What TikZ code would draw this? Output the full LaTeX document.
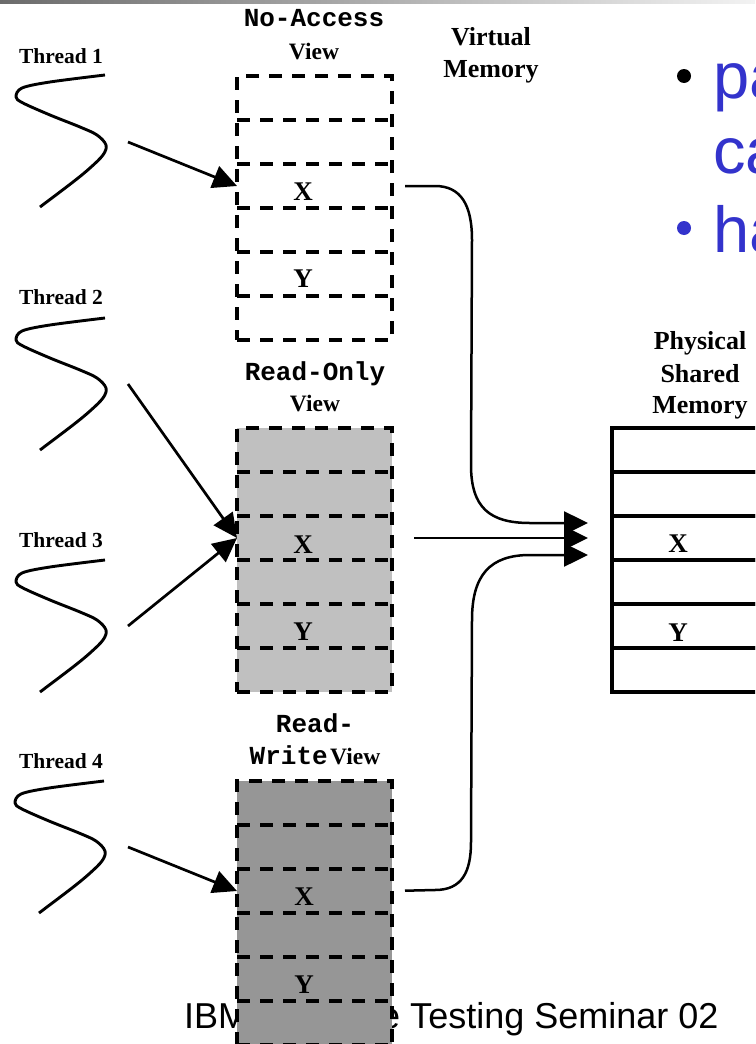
\documentclass[tikz,border=0pt]{standalone}
\usepackage{fontspec}
\setmainfont{Liberation Serif}
\setmonofont{Liberation Mono}
\newfontfamily\slidefont{Liberation Sans}
\usetikzlibrary{arrows.meta}
\definecolor{slideblue}{HTML}{3333CC}
\definecolor{rogray}{HTML}{C0C0C0}
\definecolor{rwgray}{HTML}{969696}
\begin{document}
\begin{tikzpicture}[x=1pt,y=-1pt,
  tbf/.style={font=\fontsize{21.5}{24}\selectfont\bfseries, inner sep=0pt, anchor=base},
  hbf/.style={font=\fontsize{26}{30}\selectfont\bfseries, inner sep=0pt, anchor=base},
  vbf/.style={font=\fontsize{23.5}{28}\selectfont\bfseries, inner sep=0pt, anchor=base},
  mbf/.style={font=\fontsize{26}{30}\selectfont\ttfamily\bfseries, inner sep=0pt, anchor=base},
  cell/.style={font=\fontsize{27}{30}\selectfont\bfseries, inner sep=0pt, anchor=base},
  viewbox/.style={draw, line width=3.4pt, dash pattern=on 13pt off 10pt, minimum width=155pt, minimum height=264pt, inner sep=0pt, outer sep=0pt},
  vrow/.style={minimum width=155pt, minimum height=44pt, inner sep=0pt, outer sep=0pt},
  rowline/.style={line width=3.4pt, dash pattern=on 13pt off 10pt},
  prow/.style={draw, line width=3.2pt, minimum width=175pt, minimum height=44pt, inner sep=0pt, outer sep=0pt},
  conn/.style={line width=2.7pt, -{Triangle[length=24pt,width=23pt]}},
  bluetxt/.style={anchor=base west, inner sep=0pt, font=\slidefont\fontsize{65}{70}\selectfont, text=slideblue},
  thr/.style={line width=2.9pt},
  squiggle/.pic={\draw[thr] plot[smooth,tension=0.55] coordinates {(0,0) (-55,7) (-83,13) (-89,22) (-82,28) (-55,40) (-25,52) (-8,60) (1,70) (-2,80) (-15,93) (-32,107) (-65,132)};}
]
\useasboundingbox (0,0) rectangle (755,1044);
\clip (0,0) rectangle (755,1044);
\fill[white] (0,0) rectangle (755,1044);
% top gradient bar
\shade[left color=black!58, right color=black!5] (0,0) rectangle (755,3);

% footer (partly hidden behind the read-write view)
\node[anchor=base west, inner sep=0pt, font=\slidefont\fontsize{36}{40}\selectfont] (foot) at (184,1028) {IBM Software Testing Seminar 02};

% bullet text on the right
\fill (684,76) circle (7pt);
\fill[slideblue] (684,228) circle (7pt);
\node[bluetxt] (b1) at (713,98) {pa};
\node[bluetxt] (b2) at (713,173) {ca};
\node[bluetxt] (b3) at (713,252) {ha};

% thread labels and squiggles
\node[tbf] (th1) at (61,63) {Thread 1};
\node[tbf] (th2) at (61,304) {Thread 2};
\node[tbf] (th3) at (61,547) {Thread 3};
\node[tbf] (th4) at (61,768) {Thread 4};
\pic at (105,75) {squiggle};
\pic at (105,318) {squiggle};
\pic at (105,560) {squiggle};
\pic at (104,781) {squiggle};
\coordinate (t1s) at (128,142);
\coordinate (t2s) at (128,384);
\coordinate (t3s) at (128,626);
\coordinate (t4s) at (128,847);

% headings
\node[mbf] (hna) at (314,27) {No-Access};
\node[vbf] (hna2) at (314,59) {View};
\node[hbf] (hvm1) at (491,45) {Virtual};
\node[hbf] (hvm2) at (491,77) {Memory};
\node[mbf] (hro) at (315,380) {Read-Only};
\node[vbf] (hro2) at (315,411) {View};
\node[mbf] (hrw) at (315,732) {Read-};
\node[inner sep=0pt, anchor=base, font=\bfseries] (hrw2) at (315,764) {{\fontsize{26}{30}\selectfont\ttfamily Write} {\fontsize{23.5}{28}\selectfont View}};
\node[hbf] (hps1) at (700,349) {Physical};
\node[hbf] (hps2) at (700,382) {Shared};
\node[hbf] (hps3) at (700,413) {Memory};

% No-Access view
\node[viewbox] (na) at (314.5,208) {};
\foreach \i in {1,...,6} \node[vrow] (na\i) at (314.5,{98+44*(\i-1)}) {};
\foreach \i in {1,...,5} \draw[rowline] (na\i.south west) -- (na\i.south east);

% Read-Only view
\node[viewbox, fill=rogray] (ro) at (314.5,560) {};
\foreach \i in {1,...,6} \node[vrow] (ro\i) at (314.5,{450+44*(\i-1)}) {};
\foreach \i in {1,...,5} \draw[rowline] (ro\i.south west) -- (ro\i.south east);

% Read-Write view
\node[viewbox, fill=rwgray, minimum height=290pt] (rw) at (314.5,926) {};
\foreach \i in {1,...,6} \node[vrow] (rw\i) at (314.5,{803+44*(\i-1)}) {};
\foreach \i in {1,...,6} \draw[rowline] (rw\i.south west) -- (rw\i.south east);

% Physical shared memory
\foreach \i in {1,...,6} \node[prow] (ph\i) at (699.5,{450+44*(\i-1)}) {};

% cell labels
\node[cell] (naX) at (303,200) {X};
\node[cell] (naY) at (303,287) {Y};
\node[cell] (roX) at (303,553) {X};
\node[cell] (roY) at (303,640) {Y};
\node[cell] (rwX) at (304,905) {X};
\node[cell] (rwY) at (304,993) {Y};
\node[cell] (phX) at (678,552) {X};
\node[cell] (phY) at (678,641) {Y};

% thread arrows
\draw[conn] (t1s) -- (na3.west);
\draw[conn] (t2s) -- (ro3.west);
\draw[conn] (t3s) -- (ro3.west);
\draw[conn] (t4s) -- (rw3.west);

% mappings to physical memory
\draw[conn, line width=2.5pt, shorten <=13pt, shorten >=24pt] (na3.east) -- (435,186) .. controls (461,186) and (472,205) .. (472,240) -- (471,465) .. controls (471,508) and (490,523) .. (530,523) -- ([yshift=15pt]ph3.west);
\draw[conn, line width=2.5pt, shorten <=22pt, shorten >=24pt] (ro3.east) -- (ph3.west);
\draw[conn, line width=2.5pt, shorten <=13pt, shorten >=24pt] (rw3.east) -- (435,890) .. controls (462,890) and (471,872) .. (471,842) -- (472,620) .. controls (472,575) and (490,555) .. (530,555) -- ([yshift=-17pt]ph3.west);
\end{tikzpicture}
\end{document}
